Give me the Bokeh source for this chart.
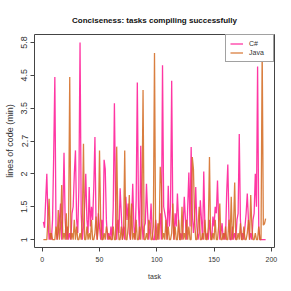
import numpy as np
from bokeh.plotting import figure
from bokeh.models import FixedTicker
from bokeh.embed import file_html
from bokeh.resources import INLINE

tasks = list(range(1, 196))

csharp = [
    1.27, 1.18, 1.6, 2.0, 1.3, 1.0, 1.1, 1.0, 1.3, 2.4,
    4.45, 1.2, 1.0, 1.1, 1.3, 1.55, 1.0, 1.4, 2.45, 1.3,
    1.0, 1.2, 1.0, 1.1, 1.0, 1.4, 1.5, 2.0, 2.5, 1.3,
    1.1, 1.8, 5.8, 1.4, 1.0, 1.2, 1.5, 2.0, 1.3, 1.1,
    1.8, 1.2, 1.5, 1.3, 1.8, 2.8, 1.2, 1.0, 1.4, 1.2,
    1.0, 1.3, 1.0, 2.3, 2.1, 1.3, 1.0, 1.1, 1.0, 1.2,
    1.0, 1.5, 3.65, 1.6, 1.0, 1.3, 1.1, 1.78, 1.4, 1.0,
    1.2, 1.0, 1.65, 1.3, 1.55, 1.1, 1.0, 1.3, 1.85, 1.2,
    1.0, 1.6, 4.28, 1.5, 1.0, 2.6, 1.3, 1.0, 1.2, 1.25,
    1.85, 1.4, 1.0, 1.2, 1.55, 1.1, 1.0, 1.0, 1.3, 1.1,
    1.0, 1.2, 1.4, 1.0, 4.9, 1.5, 1.4, 1.3, 1.0, 1.82,
    1.2, 1.5, 4.33, 1.3, 1.0, 1.4, 1.2, 1.7, 1.3, 1.0,
    1.1, 1.0, 1.2, 1.65, 1.3, 1.0, 1.5, 2.03, 1.2, 2.57,
    1.4, 1.1, 1.3, 1.8, 1.2, 1.0, 1.1, 1.6, 1.3, 1.0,
    2.05, 1.2, 1.0, 1.1, 1.0, 1.3, 1.1, 1.0, 1.35, 1.2,
    1.5, 1.4, 1.9, 1.3, 1.0, 1.1, 1.25, 1.0, 1.1, 1.0,
    1.7, 2.2, 1.3, 1.0, 1.0, 1.2, 1.0, 1.1, 1.0, 1.3,
    1.4, 2.87, 1.3, 1.0, 1.1, 1.0, 1.2, 1.4, 1.7, 1.3,
    1.0, 1.1, 1.0, 1.3, 1.4, 2.0, 1.5, 4.85, 1.2, 1.0,
    1.0, 1.0, 1.0, 1.0, 1.0,
]

java = [
    1.0, 1.0, 1.0, 1.0, 1.3, 1.62, 1.0, 1.1, 1.0, 1.0,
    1.0, 1.2, 1.0, 1.45, 1.0, 1.2, 1.83, 1.0, 1.1, 1.0,
    1.4, 1.0, 1.2, 4.45, 1.0, 1.1, 1.0, 1.3, 1.0, 1.2,
    1.0, 1.0, 1.1, 1.0, 1.3, 2.64, 1.0, 1.0, 1.2, 1.0,
    1.1, 1.0, 1.3, 1.0, 1.0, 1.1, 1.35, 1.0, 1.2, 2.5,
    1.3, 1.0, 1.0, 1.1, 1.0, 1.2, 1.1, 1.0, 1.05, 1.0,
    1.0, 1.2, 1.0, 1.0, 2.58, 1.3, 1.0, 1.0, 1.2, 1.0,
    1.1, 2.5, 1.0, 1.0, 1.2, 1.68, 1.0, 1.55, 1.0, 1.1,
    1.0, 1.3, 1.0, 1.0, 1.2, 1.0, 1.4, 4.05, 1.0, 1.0,
    1.1, 1.0, 1.3, 1.25, 1.0, 1.0, 1.2, 5.38, 1.0, 1.0,
    1.25, 1.0, 2.15, 1.85, 1.0, 1.1, 1.0, 1.3, 1.0, 1.2,
    1.0, 1.0, 1.1, 1.55, 1.0, 1.2, 1.0, 1.0, 1.3, 1.0,
    1.0, 1.5, 1.0, 1.1, 1.0, 1.3, 1.0, 1.2, 1.0, 1.0,
    2.36, 2.1, 1.3, 1.0, 1.0, 1.2, 1.5, 1.0, 1.0, 1.1,
    1.0, 1.3, 1.0, 1.0, 1.2, 2.36, 1.0, 1.0, 1.1, 1.0,
    1.3, 1.0, 1.0, 1.2, 1.55, 1.0, 1.0, 1.1, 1.0, 1.2,
    1.0, 1.0, 1.3, 1.0, 1.65, 1.0, 1.2, 1.87, 1.0, 1.0,
    1.1, 1.0, 1.25, 1.0, 1.0, 1.2, 1.0, 1.0, 1.1, 1.3,
    1.0, 1.68, 1.2, 1.0, 1.0, 1.1, 1.0, 1.0, 1.2, 1.0,
    1.0, 5.6, 1.22, 1.24, 1.32,
]

y_tick_labels = [1, 1.5, 2, 2.7, 3.5, 4.5, 5.8]
x_ticks = [0, 50, 100, 150, 200]

# axis scale: tick labels sit at equal spacing; values mapped piecewise between them
y_pos = list(range(len(y_tick_labels)))


def to_pos(vals):
    return np.interp(np.asarray(vals, dtype=float), y_tick_labels, y_pos)


FONT = "Liberation Sans"
GREY = "#444444"
TEXT = "#333333"

p = figure(
    width=283, height=283,
    output_backend="svg", toolbar_location=None,
    x_range=(-6.76, 202.76), y_range=(-0.24, 6.24),
    min_border_left=34, min_border_right=9,
    min_border_top=34, min_border_bottom=36,
    title="Conciseness: tasks compiling successfully",
)

p.title.align = "center"
p.title.text_font = FONT
p.title.text_font_size = "8px"
p.title.text_font_style = "bold"
p.title.text_color = "#111111"
p.title.standoff = 19

p.xgrid.visible = False
p.ygrid.visible = False
p.outline_line_color = GREY
p.outline_line_width = 1
p.background_fill_color = "white"
p.border_fill_color = "white"

p.xaxis.ticker = FixedTicker(ticks=x_ticks)
p.yaxis.ticker = FixedTicker(ticks=[float(v) for v in y_pos])
p.yaxis.major_label_overrides = {float(i): str(l) for i, l in zip(y_pos, y_tick_labels)}
p.yaxis.major_label_orientation = "vertical"

for ax in (p.xaxis[0], p.yaxis[0]):
    ax.axis_line_color = None
    ax.major_tick_line_color = GREY
    ax.major_tick_out = 4
    ax.major_tick_in = 0
    ax.minor_tick_line_color = None
    ax.major_label_text_font = FONT
    ax.major_label_text_color = TEXT
    ax.axis_label_text_font = FONT
    ax.axis_label_text_font_style = "normal"
    ax.axis_label_text_color = TEXT

p.xaxis.major_label_text_font_size = "7px"
p.xaxis.axis_label_text_font_size = "7px"
p.yaxis.major_label_text_font_size = "9px"
p.yaxis.axis_label_text_font_size = "9px"

p.xaxis.axis_label = "task"
p.yaxis.axis_label = "lines of code (min)"
p.xaxis.major_label_standoff = 5
p.xaxis.axis_label_standoff = 8
p.yaxis.major_label_standoff = 3
p.yaxis.axis_label_standoff = 4

p.line(tasks, to_pos(csharp), line_color="#FF1493", line_width=1.3,
       line_alpha=0.85, legend_label="C#")
p.line(tasks, to_pos(java), line_color="#D2691E", line_width=1.3,
       line_alpha=0.85, legend_label="Java")

lg = p.legend[0]
lg.location = "top_right"
lg.margin = 0
lg.padding = 4
lg.spacing = 0
lg.border_line_color = GREY
lg.border_line_width = 1
lg.background_fill_alpha = 1
lg.label_text_font = FONT
lg.label_text_font_size = "7px"
lg.label_text_color = TEXT
lg.glyph_width = 13
lg.glyph_height = 9
lg.label_height = 9
lg.label_standoff = 6

open("out.html", "w").write(file_html(p, INLINE))
